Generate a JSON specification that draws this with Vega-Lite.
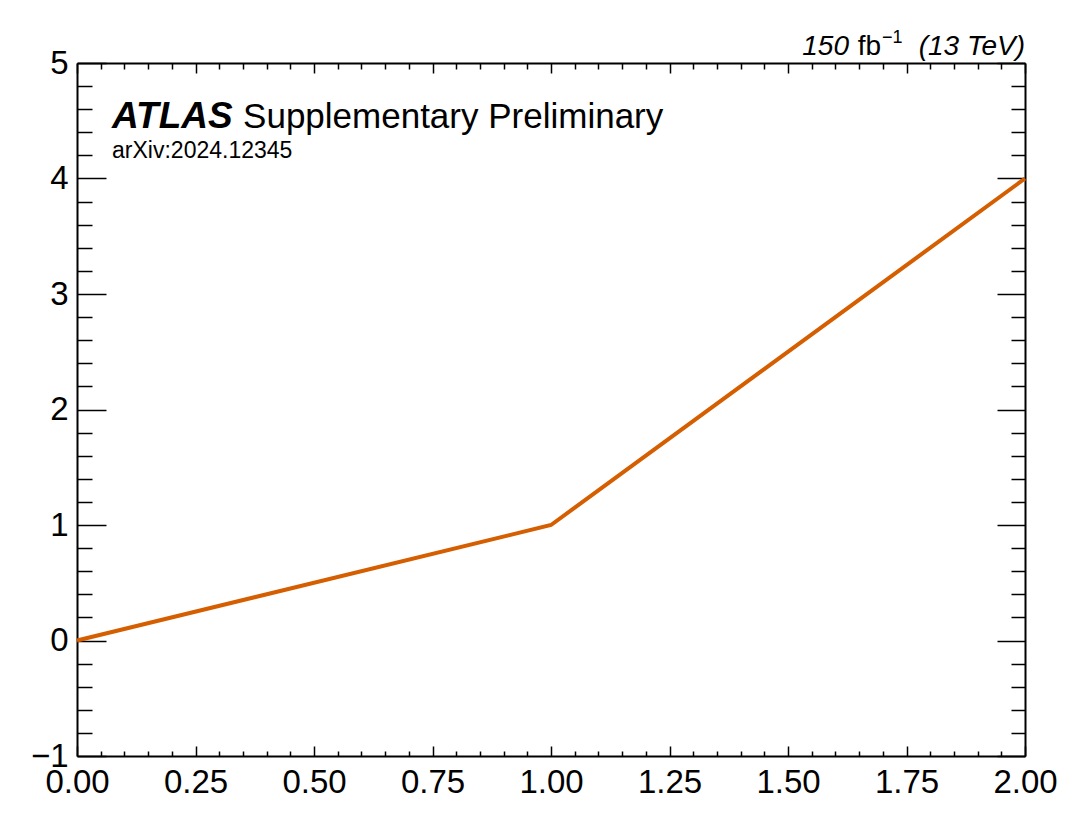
{
  "$schema": "https://vega.github.io/schema/vega-lite/v6.json",
  "width": 948,
  "height": 693,
  "autosize": {"type": "none"},
  "padding": {"left": 77, "top": 63, "right": 64, "bottom": 72},
  "background": "white",
  "datasets": {
    "curve": [
      {"x": 0, "y": 0},
      {"x": 1, "y": 1},
      {"x": 2, "y": 4}
    ]
  },
  "config": {
    "view": {"stroke": null},
    "axis": {
      "grid": false,
      "domainColor": "black",
      "domainWidth": 2,
      "tickColor": "black",
      "tickWidth": 1.5,
      "labelColor": "black",
      "labelFont": "Liberation Sans",
      "labelFontSize": 33,
      "labelFlush": false,
      "labelOverlap": false
    },
    "text": {"font": "Liberation Sans", "color": "black"}
  },
  "resolve": {"axis": {"x": "independent", "y": "independent"}},
  "layer": [
    {
      "data": {"name": "curve"},
      "mark": {"type": "line", "color": "#d55e00", "strokeWidth": 4},
      "encoding": {
        "x": {
          "field": "x", "type": "quantitative", "title": null,
          "scale": {"domain": [0, 2], "nice": false, "zero": false},
          "axis": {"orient": "bottom", "values": [0, 0.25, 0.5, 0.75, 1, 1.25, 1.5, 1.75, 2], "format": ".2f", "tickSize": -10, "labelPadding": 20}
        },
        "y": {
          "field": "y", "type": "quantitative", "title": null,
          "scale": {"domain": [-1, 5], "nice": false, "zero": false},
          "axis": {"orient": "left", "values": [-1, 0, 1, 2, 3, 4, 5], "format": "d", "tickSize": -29, "labelPadding": 38}
        }
      }
    },
    {
      "data": {"name": "curve"},
      "mark": {"type": "line", "opacity": 0},
      "encoding": {
        "x": {
          "field": "x", "type": "quantitative", "title": null,
          "scale": {"domain": [0, 2], "nice": false, "zero": false},
          "axis": {"orient": "bottom", "domain": false, "labels": false, "tickSize": -5,
            "values": [0.05, 0.1, 0.15, 0.2, 0.3, 0.35, 0.4, 0.45, 0.55, 0.6, 0.65, 0.7, 0.8, 0.85, 0.9, 0.95, 1.05, 1.1, 1.15, 1.2, 1.3, 1.35, 1.4, 1.45, 1.55, 1.6, 1.65, 1.7, 1.8, 1.85, 1.9, 1.95]}
        },
        "y": {
          "field": "y", "type": "quantitative", "title": null,
          "scale": {"domain": [-1, 5], "nice": false, "zero": false},
          "axis": {"orient": "left", "domain": false, "labels": false, "tickSize": -15,
            "values": [-0.8, -0.6, -0.4, -0.2, 0.2, 0.4, 0.6, 0.8, 1.2, 1.4, 1.6, 1.8, 2.2, 2.4, 2.6, 2.8, 3.2, 3.4, 3.6, 3.8, 4.2, 4.4, 4.6, 4.8]}
        }
      }
    },
    {
      "data": {"name": "curve"},
      "mark": {"type": "line", "opacity": 0},
      "encoding": {
        "x": {
          "field": "x", "type": "quantitative", "title": null,
          "scale": {"domain": [0, 2], "nice": false, "zero": false},
          "axis": {"orient": "top", "labels": false, "tickSize": -10, "values": [0, 0.25, 0.5, 0.75, 1, 1.25, 1.5, 1.75, 2]}
        },
        "y": {
          "field": "y", "type": "quantitative", "title": null,
          "scale": {"domain": [-1, 5], "nice": false, "zero": false},
          "axis": {"orient": "right", "labels": false, "tickSize": -28, "values": [-1, 0, 1, 2, 3, 4, 5]}
        }
      }
    },
    {
      "data": {"name": "curve"},
      "mark": {"type": "line", "opacity": 0},
      "encoding": {
        "x": {
          "field": "x", "type": "quantitative", "title": null,
          "scale": {"domain": [0, 2], "nice": false, "zero": false},
          "axis": {"orient": "top", "domain": false, "labels": false, "tickSize": -6,
            "values": [0.05, 0.1, 0.15, 0.2, 0.3, 0.35, 0.4, 0.45, 0.55, 0.6, 0.65, 0.7, 0.8, 0.85, 0.9, 0.95, 1.05, 1.1, 1.15, 1.2, 1.3, 1.35, 1.4, 1.45, 1.55, 1.6, 1.65, 1.7, 1.8, 1.85, 1.9, 1.95]}
        },
        "y": {
          "field": "y", "type": "quantitative", "title": null,
          "scale": {"domain": [-1, 5], "nice": false, "zero": false},
          "axis": {"orient": "right", "domain": false, "labels": false, "tickSize": -14,
            "values": [-0.8, -0.6, -0.4, -0.2, 0.2, 0.4, 0.6, 0.8, 1.2, 1.4, 1.6, 1.8, 2.2, 2.4, 2.6, 2.8, 3.2, 3.4, 3.6, 3.8, 4.2, 4.4, 4.6, 4.8]}
        }
      }
    },
    {
      "data": {"values": [{"t": "ATLAS"}]},
      "mark": {"type": "text", "align": "left", "baseline": "alphabetic", "fontSize": 37, "fontWeight": "bold", "fontStyle": "italic"},
      "encoding": {
        "x": {"datum": 0.074, "type": "quantitative", "axis": null},
        "y": {"datum": 4.44, "type": "quantitative", "axis": null},
        "text": {"field": "t"}
      }
    },
    {
      "data": {"values": [{"t": "Supplementary Preliminary"}]},
      "mark": {"type": "text", "align": "left", "baseline": "alphabetic", "fontSize": 35, "dx": 131},
      "encoding": {
        "x": {"datum": 0.074, "type": "quantitative", "axis": null},
        "y": {"datum": 4.44, "type": "quantitative", "axis": null},
        "text": {"field": "t"}
      }
    },
    {
      "data": {"values": [{"t": "arXiv:2024.12345"}]},
      "mark": {"type": "text", "align": "left", "baseline": "alphabetic", "fontSize": 23},
      "encoding": {
        "x": {"datum": 0.074, "type": "quantitative", "axis": null},
        "y": {"datum": 4.18, "type": "quantitative", "axis": null},
        "text": {"field": "t"}
      }
    },
    {
      "data": {"values": [{"t": "(13 TeV)"}]},
      "mark": {"type": "text", "align": "right", "baseline": "alphabetic", "fontSize": 28, "fontStyle": "italic", "dy": -8},
      "encoding": {
        "x": {"datum": 2, "type": "quantitative", "axis": null},
        "y": {"datum": 5, "type": "quantitative", "axis": null},
        "text": {"field": "t"}
      }
    },
    {
      "data": {"values": [{"t": "\u22121"}]},
      "mark": {"type": "text", "align": "left", "baseline": "alphabetic", "fontSize": 18, "dx": -143, "dy": -20},
      "encoding": {
        "x": {"datum": 2, "type": "quantitative", "axis": null},
        "y": {"datum": 5, "type": "quantitative", "axis": null},
        "text": {"field": "t"}
      }
    },
    {
      "data": {"values": [{"t": "fb"}]},
      "mark": {"type": "text", "align": "right", "baseline": "alphabetic", "fontSize": 28, "dx": -144, "dy": -8},
      "encoding": {
        "x": {"datum": 2, "type": "quantitative", "axis": null},
        "y": {"datum": 5, "type": "quantitative", "axis": null},
        "text": {"field": "t"}
      }
    },
    {
      "data": {"values": [{"t": "150"}]},
      "mark": {"type": "text", "align": "right", "baseline": "alphabetic", "fontSize": 28, "fontStyle": "italic", "dx": -176, "dy": -8},
      "encoding": {
        "x": {"datum": 2, "type": "quantitative", "axis": null},
        "y": {"datum": 5, "type": "quantitative", "axis": null},
        "text": {"field": "t"}
      }
    }
  ]
}
